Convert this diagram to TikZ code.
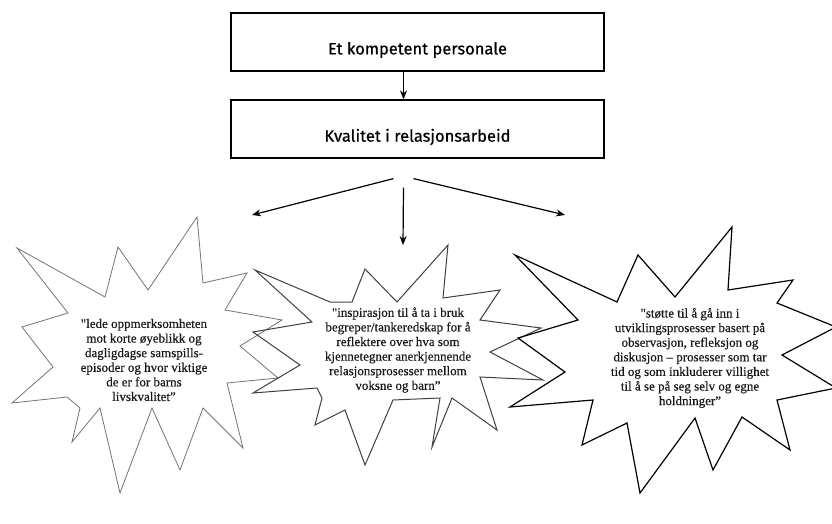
\documentclass[tikz,border=0pt]{standalone}
\usepackage{fontspec}
\newfontfamily\serfont{Liberation Serif}[FakeBold=0.35]
\newfontfamily\boxfont{Fira Sans}[FakeBold=0.6]
\usetikzlibrary{arrows.meta}
\tikzset{
  boxst/.style={draw=black, line width=1.2pt, minimum width=373pt, minimum height=58pt, inner sep=0pt},
  boxtext/.style={font=\boxfont\fontsize{16.5}{19}\selectfont, inner sep=0pt},
  arr/.style={line width=1.2pt, -{Stealth[length=9pt,width=7pt]}},
  starA/.style={draw=black!55, line width=0.8pt, line join=miter},
  starB/.style={draw=black!75, line width=1pt, line join=miter},
  starC/.style={draw=black, line width=1.2pt, line join=miter},
  startext/.style={fill=white, align=center, inner sep=3pt, font=\serfont\fontsize{13}{14.6}\selectfont, text=black!90},
}
\begin{document}
\begin{tikzpicture}[x=1pt,y=-1pt]
\useasboundingbox (0,0) rectangle (832,524);
% boxes
\node[boxst] (b1) at (417.5,42) {};
\node[boxst] (b2) at (417.5,129) {};
\node[boxtext] (t1) at ([yshift=-8pt]b1.center) {Et kompetent personale};
\node[boxtext] (t2) at ([yshift=-8pt]b2.center) {Kvalitet i relasjonsarbeid};
\draw[arr] ([xshift=-14pt]b1.south) -- ([xshift=-14pt]b2.north);
% stars
\draw[starA] (17,248) -- (105,297) -- (118,247) -- (148,290) -- (197,217) -- (203,283) -- (247,273) -- (225,310) -- (282,320) -- (240,346) -- (278,378) -- (227,383) -- (243,448) -- (203,408) -- (180,470) -- (152,408) -- (120,493) -- (100,408) -- (72,442) -- (80,408) -- (67,397) -- (12,403) -- (53,367) -- (22,327) -- (68,313) -- cycle;
\draw[starB] (365,269) -- (397,302) -- (448,245) -- (443,298) -- (500,290) -- (480,320) -- (541,328) -- (490,352) -- (543,380) -- (480,377) -- (497,430) -- (452,398) -- (432,447) -- (440,398) -- (393,400) -- (365,465) -- (345,410) -- (315,425) -- (322,398) -- (317,388) -- (253,393) -- (300,365) -- (253,332) -- (312,322) -- (255,270) -- (330,302) -- (352,302) -- cycle;
\draw[starC] (515,255) -- (617,302) -- (638,255) -- (675,297) -- (732,227) -- (728,290) -- (793,280) -- (777,303) -- (836,327) -- (782,355) -- (836,388) -- (777,400) -- (790,450) -- (742,417) -- (713,470) -- (695,418) -- (640,493) -- (627,423) -- (582,445) -- (593,400) -- (510,407) -- (565,372) -- (518,338) -- (578,320) -- cycle;
% texts
\node[startext] (s1) at (144,360) {"lede oppmerksomheten\\mot korte øyeblikk og\\dagligdagse samspills-\\episoder og hvor viktige\\de er for barns\\livskvalitet”};
\node[startext] (s2) at (398,350) {"inspirasjon til å ta i bruk\\begreper/tankeredskap for å\\reflektere over hva som\\kjennetegner anerkjennende\\relasjonsprosesser mellom\\voksne og barn”};
\node[startext] (s3) at (690,358) {"støtte til å gå inn i\\utviklingsprosesser basert på\\observasjon, refleksjon og\\diskusjon – prosesser som tar\\tid og som inkluderer villighet\\til å se på seg selv og egne\\holdninger”};
% arrows to stars
\coordinate (aL) at (252,215);
\coordinate (aM) at (403,245);
\coordinate (aR) at (565,215);
\draw[arr] ([xshift=-24pt,yshift=-20pt]b2.south) -- (aL);
\draw[arr] ([xshift=-14pt,yshift=-29pt]b2.south) -- (aM);
\draw[arr] ([xshift=-4pt,yshift=-20pt]b2.south) -- (aR);
\end{tikzpicture}
\end{document}
